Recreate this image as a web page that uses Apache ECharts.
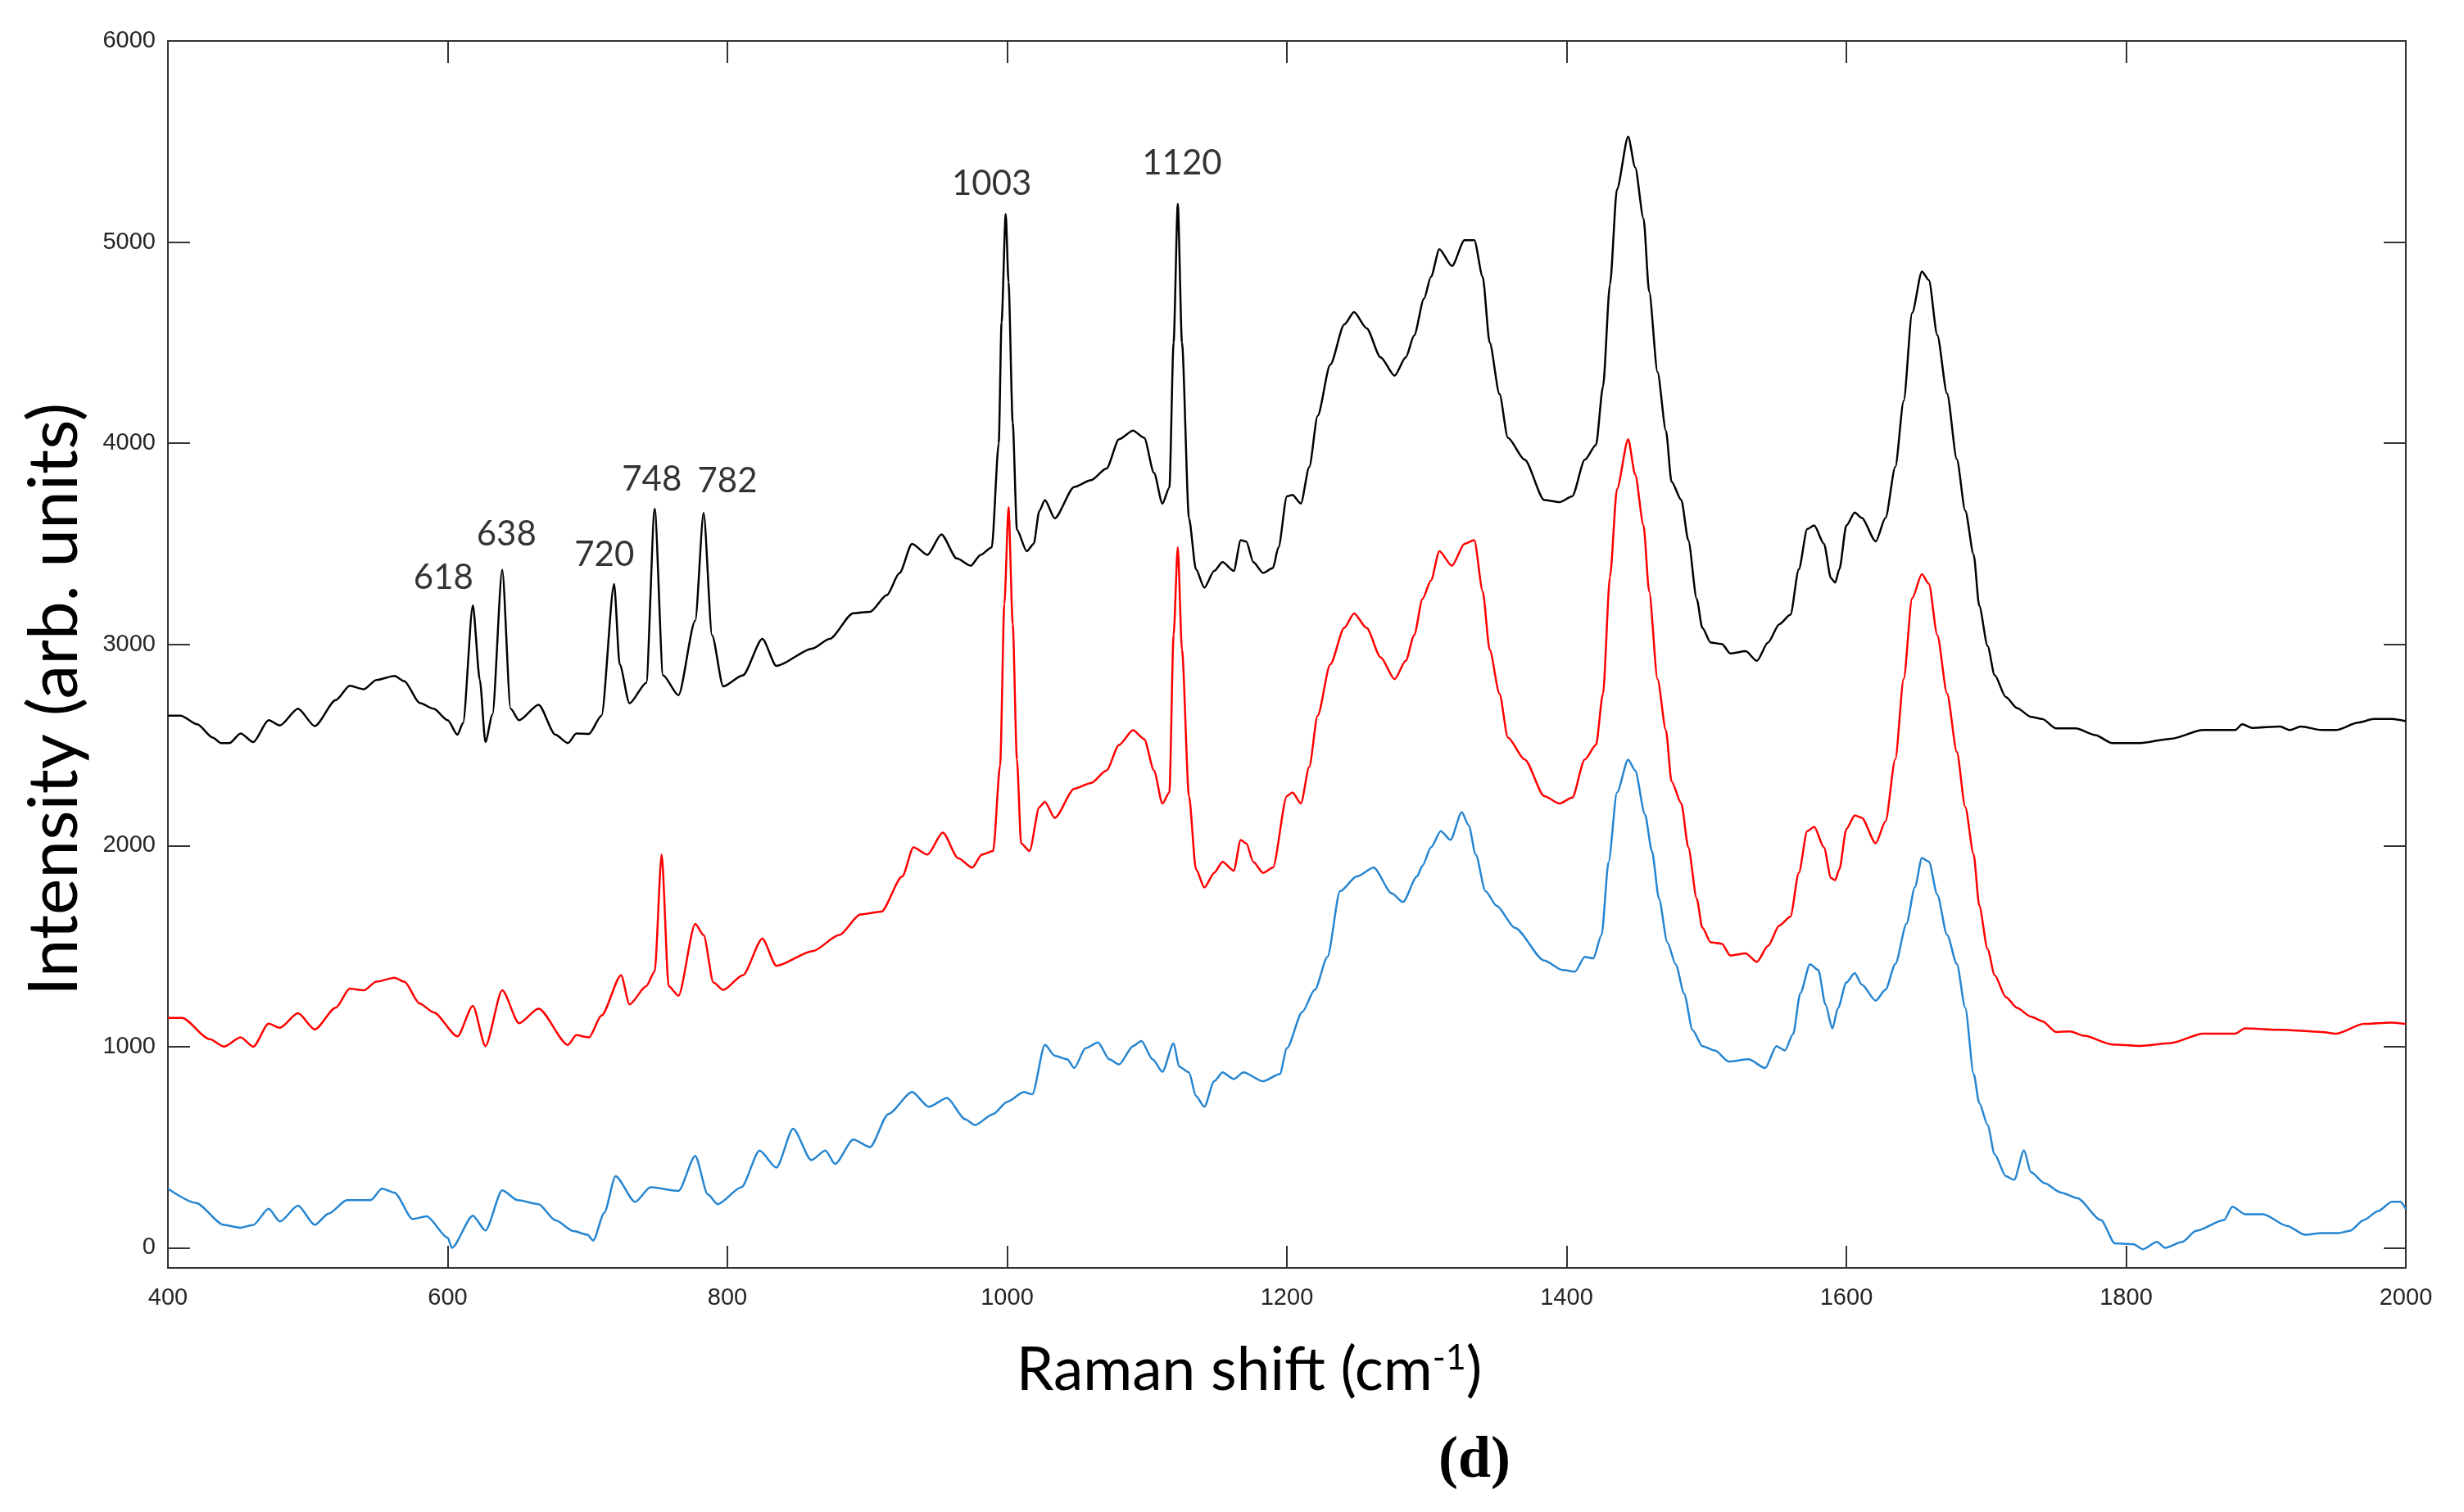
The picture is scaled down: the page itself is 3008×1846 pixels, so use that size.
<!DOCTYPE html>
<html>
<head>
<meta charset="utf-8">
<script src="https://cdn.jsdelivr.net/npm/echarts@6/dist/echarts.min.js"></script>
<style>
  html, body { margin: 0; padding: 0; background: #fff; }
  #chart { width: 3008px; height: 1846px; }
</style>
</head>
<body>
<div id="chart"></div>
<script>
// Raman spectra, [shift (cm-1), intensity]
var blackSpectrum = [
  [400,2646],[409,2646],[421,2603],[432,2537],[438,2509],[444,2509],[452,2557],[461,2514],[472,2623],[480,2597],
  [493,2680],[505,2594],[520,2723],[530,2794],[540,2777],[549,2823],[562,2843],[569,2817],[580,2709],[590,2680],
  [600,2623],[607,2551],[611,2609],[618,3194],[623,2823],[627,2514],[632,2651],[639,3371],[645,2680],[651,2623],
  [665,2700],[677,2551],[686,2509],[692,2557],[701,2555],[710,2646],[719,3300],[723,2900],[730,2707],[742,2809],
  [748,3674],[754,2846],[765,2747],[777,3118],[783,3653],[789,3046],[797,2791],[811,2846],[825,3027],[835,2893],
  [861,2980],[873,3027],[890,3155],[902,3162],[914,3245],[923,3354],[932,3500],[943,3445],[953,3547],[964,3427],
  [974,3391],[981,3445],[989,3482],[994,4000],[996,4600],[999,5140],[1001,4800],[1004,4100],[1007,3570],[1014,3463],
  [1019,3500],[1023,3663],[1027,3718],[1034,3627],[1048,3783],[1060,3816],[1071,3874],[1080,4020],[1090,4063],[1098,4027],
  [1105,3853],[1111,3700],[1116,3780],[1119,4500],[1122,5190],[1125,4500],[1130,3627],[1135,3373],[1141,3282],[1148,3365],
  [1154,3409],[1162,3365],[1167,3518],[1171,3511],[1176,3409],[1183,3355],[1190,3380],[1194,3482],[1200,3736],[1204,3743],
  [1210,3700],[1216,3882],[1222,4136],[1231,4390],[1241,4590],[1248,4652],[1257,4572],[1267,4427],[1277,4336],[1285,4427],
  [1291,4536],[1298,4718],[1303,4827],[1309,4965],[1318,4881],[1327,5009],[1334,5009],[1340,4827],[1345,4500],[1352,4245],
  [1358,4027],[1370,3918],[1384,3718],[1395,3707],[1404,3736],[1413,3918],[1421,3991],[1426,4281],[1431,4790],[1436,5263],
  [1444,5525],[1449,5372],[1455,5117],[1459,4754],[1465,4354],[1471,4063],[1475,3809],[1482,3718],[1487,3518],[1493,3227],
  [1497,3082],[1503,3009],[1511,3002],[1517,2955],[1528,2966],[1536,2918],[1544,3009],[1552,3100],[1560,3147],[1566,3373],
  [1572,3573],[1577,3591],[1584,3500],[1589,3329],[1592,3307],[1595,3373],[1600,3591],[1606,3655],[1611,3629],[1621,3512],
  [1628,3629],[1635,3883],[1641,4211],[1647,4647],[1654,4854],[1659,4811],[1665,4538],[1672,4247],[1679,3920],[1685,3665],
  [1691,3447],[1695,3192],[1701,2992],[1706,2847],[1714,2738],[1722,2683],[1732,2640],[1740,2629],[1750,2582],[1764,2582],
  [1778,2549],[1790,2509],[1810,2509],[1832,2531],[1855,2574],[1878,2574],[1883,2603],[1890,2585],[1910,2592],[1917,2574],
  [1925,2592],[1940,2574],[1950,2574],[1966,2611],[1977,2629],[1990,2629],[2000,2618]
];

var redSpectrum = [
  [400,1143],[410,1143],[430,1037],[440,1000],[452,1046],[461,1000],[472,1114],[480,1094],[493,1166],[505,1086],
  [520,1194],[530,1289],[540,1280],[549,1323],[562,1343],[569,1323],[580,1214],[590,1171],[607,1051],[618,1203],
  [627,1003],[639,1280],[651,1117],[665,1189],[686,1009],[692,1057],[701,1046],[710,1155],[724,1355],[730,1210],
  [742,1301],[748,1373],[753,1955],[758,1301],[765,1253],[777,1610],[783,1555],[790,1319],[797,1282],[811,1355],
  [825,1537],[835,1402],[861,1475],[880,1555],[895,1657],[910,1671],[925,1846],[933,1991],[943,1955],[954,2064],
  [965,1937],[975,1890],[982,1955],[990,1973],[995,2400],[998,3200],[1001,3682],[1004,3100],[1007,2428],[1010,2010],
  [1016,1973],[1023,2191],[1027,2217],[1034,2137],[1048,2282],[1060,2311],[1071,2373],[1080,2500],[1090,2573],[1098,2529],
  [1105,2373],[1111,2209],[1116,2264],[1119,3046],[1122,3482],[1125,2973],[1130,2246],[1135,1882],[1141,1791],[1148,1864],
  [1154,1919],[1162,1875],[1167,2028],[1171,2010],[1176,1919],[1183,1864],[1190,1890],[1200,2246],[1204,2264],[1210,2209],
  [1216,2391],[1222,2646],[1231,2900],[1241,3082],[1248,3154],[1257,3082],[1267,2936],[1277,2827],[1285,2918],[1291,3046],
  [1297,3227],[1303,3318],[1309,3463],[1318,3391],[1327,3500],[1334,3518],[1340,3264],[1345,2973],[1352,2755],[1358,2537],
  [1370,2428],[1384,2246],[1395,2209],[1404,2238],[1413,2428],[1421,2500],[1426,2755],[1431,3336],[1436,3772],[1444,4020],
  [1449,3845],[1455,3591],[1459,3264],[1465,2827],[1471,2573],[1475,2319],[1482,2209],[1487,1991],[1493,1737],[1497,1592],
  [1503,1519],[1511,1512],[1517,1453],[1528,1464],[1536,1421],[1544,1501],[1552,1602],[1560,1646],[1566,1864],[1572,2071],
  [1577,2093],[1584,1991],[1589,1839],[1592,1828],[1595,1882],[1600,2082],[1606,2150],[1611,2138],[1621,2011],[1628,2120],
  [1635,2429],[1641,2829],[1647,3229],[1654,3349],[1659,3301],[1665,3047],[1672,2756],[1679,2465],[1685,2192],[1691,1956],
  [1695,1702],[1701,1484],[1706,1356],[1714,1247],[1722,1193],[1732,1149],[1740,1127],[1750,1073],[1760,1076],[1770,1054],
  [1790,1011],[1810,1004],[1832,1018],[1855,1065],[1878,1065],[1885,1091],[1910,1084],[1940,1073],[1950,1065],[1970,1113],
  [1990,1120],[2000,1113]
];

var blueSpectrum = [
  [400,294],[420,223],[440,114],[452,100],[461,114],[472,194],[480,131],[493,209],[505,114],[515,171],
  [528,237],[545,237],[553,294],[562,274],[575,143],[585,157],[600,51],[603,0],[618,160],[627,86],
  [639,286],[650,237],[665,217],[677,137],[690,83],[700,65],[704,36],[712,174],[720,356],[734,228],
  [745,301],[765,283],[777,457],[786,265],[793,217],[810,301],[823,483],[835,399],[847,592],[860,436],
  [870,483],[877,417],[890,538],[902,501],[915,665],[932,774],[944,701],[957,745],[970,639],[977,610],
  [990,665],[1000,726],[1012,774],[1018,763],[1027,1010],[1034,955],[1043,937],[1048,894],[1056,992],[1065,1021],
  [1073,937],[1080,912],[1090,1003],[1096,1028],[1104,937],[1111,875],[1119,1017],[1123,901],[1130,872],[1135,755],
  [1141,701],[1148,828],[1154,872],[1162,839],[1169,872],[1183,828],[1195,864],[1200,992],[1211,1173],[1220,1283],
  [1229,1446],[1238,1773],[1250,1846],[1262,1890],[1275,1762],[1283,1719],[1293,1846],[1297,1900],[1303,1991],[1310,2071],
  [1317,2028],[1325,2166],[1330,2100],[1335,1955],[1342,1773],[1350,1700],[1363,1591],[1384,1428],[1397,1381],[1406,1373],
  [1413,1446],[1419,1439],[1425,1555],[1430,1919],[1436,2264],[1444,2427],[1449,2373],[1456,2155],[1461,1973],[1466,1737],
  [1472,1519],[1478,1410],[1484,1264],[1490,1083],[1497,1003],[1506,981],[1516,926],[1530,937],[1542,894],[1550,1003],
  [1556,981],[1562,1064],[1567,1264],[1574,1410],[1580,1381],[1585,1210],[1590,1090],[1594,1192],[1600,1319],[1606,1366],
  [1611,1309],[1621,1229],[1628,1283],[1635,1411],[1643,1611],[1649,1793],[1654,1938],[1659,1920],[1665,1756],[1672,1556],
  [1679,1411],[1685,1193],[1691,865],[1695,720],[1701,611],[1706,465],[1714,356],[1720,338],[1727,484],[1732,375],
  [1742,320],[1753,276],[1765,247],[1782,138],[1792,22],[1805,18],[1812,-7],[1822,29],[1828,0],[1840,29],
  [1850,84],[1870,138],[1876,204],[1885,167],[1898,167],[1915,109],[1928,65],[1940,73],[1952,73],[1960,84],
  [1970,138],[1980,182],[1990,229],[1996,229],[2000,193]
];

// peak annotations on the top spectrum
var peakNames  = ['618', '638', '720', '748', '782', '1003', '1120'];
var peakLabelX = [597, 642, 712, 746, 800, 989, 1125];
var peakLabelY = [3330, 3545, 3445, 3820, 3810, 5290, 5390];

var chart = echarts.init(document.getElementById('chart'));

var axisColor = '#333';
var labelFont = '"Liberation Sans", Arial, sans-serif';
var titleFont = 'Lato, "Open Sans", sans-serif';

var peakData = peakNames.map(function (n, i) {
  return { name: n, value: [peakLabelX[i], peakLabelY[i]] };
});

function xAxisCfg(pos, showLabels) {
  return {
    type: 'value', position: pos, min: 400, max: 2000, interval: 200,
    axisLine: { show: true, onZero: false, lineStyle: { color: axisColor, width: 2 } },
    axisTick: { show: true, inside: true, length: 27, lineStyle: { color: axisColor, width: 2 } },
    axisLabel: {
      show: showLabels, fontSize: 29, color: '#262626', margin: 22, fontFamily: labelFont,
      formatter: function (v) { return String(v); }
    },
    splitLine: { show: false }
  };
}
function yAxisCfg(pos, showLabels) {
  return {
    type: 'value', position: pos, min: -100, max: 6000,
    axisLine: { show: true, onZero: false, lineStyle: { color: axisColor, width: 2 } },
    axisTick: { show: true, inside: true, length: 27, lineStyle: { color: axisColor, width: 2 } },
    axisLabel: {
      show: showLabels, fontSize: 29, color: '#262626', margin: 15, fontFamily: labelFont,
      formatter: function (v) { return v % 1000 === 0 ? String(v) : ''; }
    },
    splitLine: { show: false }
  };
}

function spectrumSeries(data, color) {
  return {
    type: 'line', data: data, showSymbol: false,
    smooth: 0.25, smoothMonotone: 'x',
    lineStyle: { color: color, width: 2.5 }
  };
}

chart.setOption({
  animation: false,
  backgroundColor: '#fff',
  grid: { left: 205, right: 71, top: 50, bottom: 298 },
  xAxis: [xAxisCfg('bottom', true), xAxisCfg('top', false)],
  yAxis: [yAxisCfg('left', true), yAxisCfg('right', false)],
  series: [
    spectrumSeries(blueSpectrum, '#2585d0'),
    spectrumSeries(redSpectrum, '#ff0000'),
    spectrumSeries(blackSpectrum, '#000000'),
    {
      type: 'scatter', data: peakData, symbolSize: 0,
      label: {
        show: true, position: 'inside', formatter: '{b}',
        fontSize: 42, color: '#000', fontFamily: titleFont
      }
    }
  ],
  graphic: [
    {
      type: 'text', x: 1525, y: 1673,
      style: {
        text: 'Raman shift (cm{sup|-1})',
        font: '73px ' + titleFont, fill: '#000',
        align: 'center', verticalAlign: 'middle',
        rich: { sup: { fontSize: 43, verticalAlign: 'top', fontFamily: 'Lato', fill: '#000' } }
      }
    },
    {
      type: 'text', x: 67, y: 854, rotation: Math.PI / 2,
      style: {
        text: 'Intensity (arb. units)',
        font: '84px ' + titleFont, fill: '#000',
        align: 'center', verticalAlign: 'middle'
      }
    },
    {
      type: 'text', x: 1800, y: 1784,
      style: {
        text: '(d)', font: 'bold 72px "Liberation Serif", "Times New Roman", serif',
        fill: '#000', align: 'center', verticalAlign: 'middle'
      }
    }
  ]
});
</script>
</body>
</html>
